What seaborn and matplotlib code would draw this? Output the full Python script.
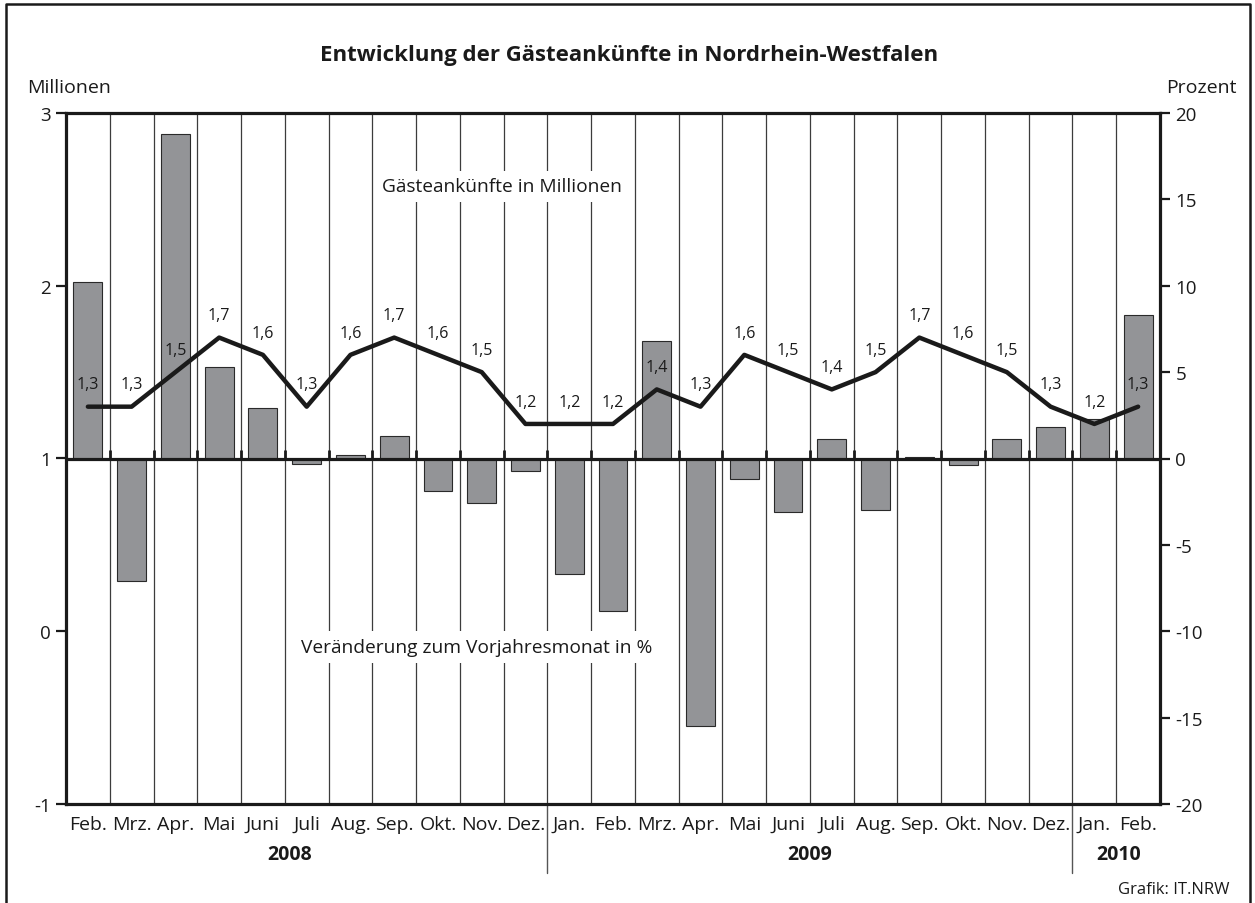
import matplotlib
matplotlib.use("Agg")
import matplotlib.pyplot as plt
import matplotlib.transforms as mtransforms
from matplotlib.lines import Line2D
import seaborn as sns
import pandas as pd
import numpy as np

# ---------------- data ----------------
months = ["Feb.", "Mrz.", "Apr.", "Mai", "Juni", "Juli", "Aug.", "Sep.", "Okt.", "Nov.", "Dez.",
          "Jan.", "Feb.", "Mrz.", "Apr.", "Mai", "Juni", "Juli", "Aug.", "Sep.", "Okt.", "Nov.", "Dez.",
          "Jan.", "Feb."]
years = ["2008", "2009", "2010"]
guests_mio = [1.3, 1.3, 1.5, 1.7, 1.6, 1.3, 1.6, 1.7, 1.6, 1.5, 1.2,
              1.2, 1.2, 1.4, 1.3, 1.6, 1.5, 1.4, 1.5, 1.7, 1.6, 1.5, 1.3,
              1.2, 1.3]
change_pct = [10.2, -7.1, 18.8, 5.3, 2.9, -0.3, 0.2, 1.3, -1.9, -2.6, -0.7,
              -6.7, -8.8, 6.8, -15.5, -1.2, -3.1, 1.1, -3.0, 0.1, -0.4, 1.1, 1.8,
              2.3, 8.3]
left_ticks = [-1, 0, 1, 2, 3]
right_ticks = [-20, -15, -10, -5, 0, 5, 10, 15, 20]
title = "Entwicklung der Gästeankünfte in Nordrhein-Westfalen"
line_caption = "Gästeankünfte in Millionen"
bar_caption = "Veränderung zum Vorjahresmonat in %"
source = "Grafik: IT.NRW"

df = pd.DataFrame({"idx": np.arange(len(months)), "pct": change_pct, "mio": guests_mio})
labels = [f"{v:.1f}".replace(".", ",") for v in guests_mio]

# ---------------- style ----------------
sns.set_theme(style="white")
plt.rcParams['font.family'] = ['Open Sans', 'DejaVu Sans']
plt.rcParams['axes.unicode_minus'] = False

INK = "#1a1a1a"
W, H = 1255, 904
fig = plt.figure(figsize=(W / 100, H / 100), dpi=100)
fig.patch.set_facecolor("white")

L, R, T, B = 66, 1160, 114, 805
ax = fig.add_axes([L / W, 1 - B / H, (R - L) / W, (B - T) / H])

n = len(months)
# vertical grid lines at category boundaries
for b in np.arange(0.5, n - 0.5, 1):
    ax.axvline(b, color="#3c3c3c", lw=0.9, zorder=0)

sns.barplot(data=df, x="idx", y="pct", ax=ax, color="#939497", saturation=1,
            width=0.66, edgecolor="#2a2a2a", linewidth=0.8, zorder=2)

ax.set_xlim(-0.5, n - 0.5)
ax.set_ylim(-20, 20)
ax.axhline(0, color=INK, lw=2.3, zorder=3)
ax.vlines(np.arange(0.5, n - 0.5, 1), 0, 0.5, color=INK, lw=2, zorder=3)

ax.set_xticks(range(n))
ax.set_xticklabels(months)
ax.tick_params(axis="x", length=0, labelsize=14, pad=8, labelcolor=INK)
ax.set_xlabel("")
ax.set_ylabel("")
for s in ax.spines.values():
    s.set_visible(True)
    s.set_color(INK)
    s.set_linewidth(2.3)

# ---------------- line on left (millions) axis ----------------
ax2 = ax.twinx()
sns.lineplot(data=df, x="idx", y="mio", ax=ax2, color=INK, lw=3.2, zorder=5)
ax2.set_ylim(-1, 3)
ax2.set_xlim(-0.5, n - 0.5)
ax2.yaxis.tick_left()
ax2.set_yticks(left_ticks)
ax2.set_yticklabels([str(t) for t in left_ticks])
ax2.tick_params(axis="y", direction="out", length=7, width=1.6, color=INK,
                labelsize=13.5, pad=4, labelcolor=INK, left=True, right=False,
                labelleft=True, labelright=False)
ax2.set_xlabel("")
ax2.set_ylabel("")
for s in ax2.spines.values():
    s.set_visible(False)

# right (percent) axis ticks, set after twinx (which moves them left)
ax.yaxis.tick_right()
ax.set_yticks(right_ticks)
ax.set_yticklabels([str(t) for t in right_ticks])
ax.tick_params(axis="y", direction="out", length=7, width=1.6, color=INK,
               labelsize=13.5, pad=4, labelcolor=INK, right=True, left=False,
               labelright=True, labelleft=False)

for i, (v, lbl) in enumerate(zip(guests_mio, labels)):
    ax2.annotate(lbl, (i, v), xytext=(0, 16), textcoords="offset points",
                 ha="center", va="center", fontsize=11.5, color=INK, zorder=6)

bbox = dict(boxstyle="square,pad=0.35", fc="white", ec="none")
ax2.text(9.46, 2.575, line_caption, ha="center", va="center", fontsize=13.8,
         color=INK, bbox=bbox, zorder=6)
ax2.text(8.89, -0.09, bar_caption, ha="center", va="center", fontsize=13.8,
         color=INK, bbox=bbox, zorder=6)

# year labels and separators
trans = mtransforms.blended_transform_factory(ax.transData, ax.transAxes)
year_pos = [4.6, 16.5, 23.55]
for yp, yl in zip(year_pos, years):
    ax.text(yp, -0.072, yl, transform=trans, ha="center", va="center",
            fontsize=14, fontweight="bold", color=INK)
for sep in [10.5, 22.5]:
    ax.plot([sep, sep], [0, -0.1], transform=trans, color="#555555", lw=1, clip_on=False)

# ---------------- figure texts ----------------
fig.text(0.5 + 2 / W, 1 - 55 / H, title, ha="center", va="center", fontsize=16,
         fontweight="bold", color=INK)
fig.text(27 / W, 1 - 88 / H, "Millionen", ha="left", va="center", fontsize=14, color=INK)
fig.text(1237 / W, 1 - 88 / H, "Prozent", ha="right", va="center", fontsize=14, color=INK)
fig.text(1229 / W, 1 - 890 / H, source, ha="right", va="center", fontsize=12, color=INK)

# outer frame (left, top, right)
fx0, fx1, fy = 6 / W, 1250 / W, 1 - 5 / H
fig.add_artist(Line2D([fx0, fx0, fx1, fx1], [-0.02, fy, fy, -0.02],
                      transform=fig.transFigure, color=INK, lw=1.8))

fig.savefig("out.png", dpi=100)
